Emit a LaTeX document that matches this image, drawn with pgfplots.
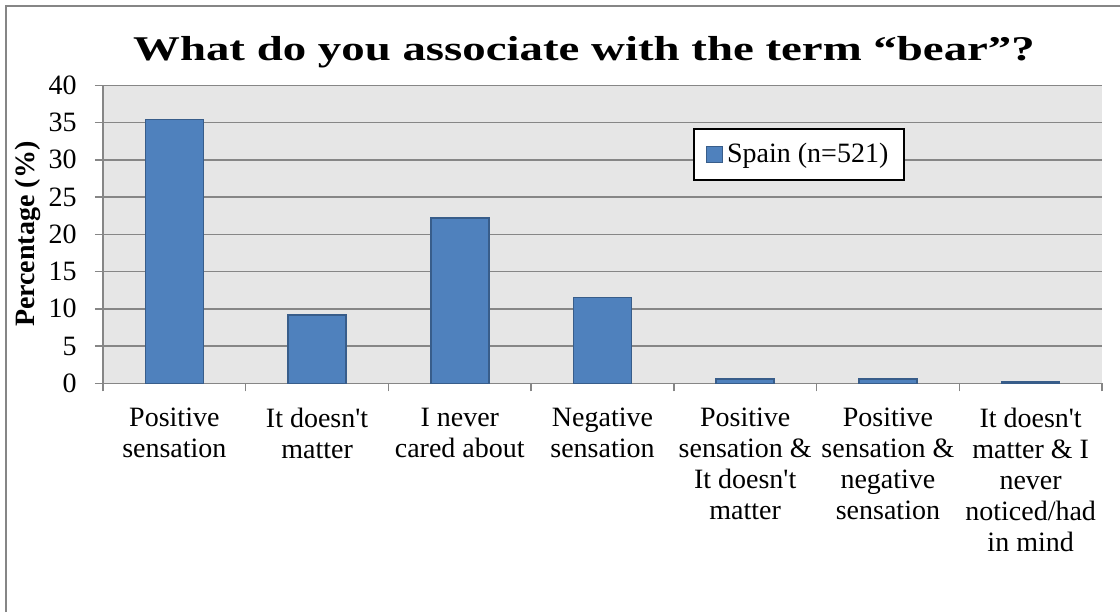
\documentclass[border=0pt]{standalone}
\usepackage{graphicx}
\usepackage{pgfplots}
\pgfplotsset{compat=1.18}
\usepackage{fontspec}
\setmainfont{Liberation Serif}
\definecolor{barfill}{HTML}{4F81BD}
\definecolor{baredge}{HTML}{385D8A}
\definecolor{gridc}{HTML}{868686}
\definecolor{plotbg}{HTML}{E6E6E6}
\newcommand{\ap}{\textquotesingle}
\begin{document}
\begin{tikzpicture}
\path[use as bounding box] (0,0) rectangle (560pt,306pt);
\draw[gridc, line width=1pt] (3pt,0) -- (3pt,303pt) -- (560pt,303pt);
\node[anchor=base, font=\fontsize{17.35pt}{20pt}\selectfont\bfseries] at (292pt,275.5pt)
  {\scalebox{1.35}[1]{What do you associate with the term “bear”?}};
\begin{axis}[
  at={(51.5pt,114.35pt)}, anchor=south west,
  scale only axis, width=499.5pt, height=149pt,
  xmin=-0.5, xmax=6.5, ymin=0, ymax=40,
  ytick={0,5,...,40},
  xtick={0,...,6},
  xticklabels={{Positive\\sensation},{It doesn\ap t\\matter},{I never\\cared about},{Negative\\sensation},{Positive\\sensation \&\\It doesn\ap t\\matter},{Positive\\sensation \&\\negative\\sensation},{It doesn\ap t\\matter \& I\\never\\noticed/had\\in mind}},
  minor xtick={-0.5,0.5,...,6.5},
  axis lines=left,
  axis line style={-, gridc, line width=0.7pt},
  axis background/.style={fill=plotbg},
  ymajorgrids, grid style={gridc, line width=0.7pt},
  tick align=outside, major tick length=4pt, minor tick length=4pt,
  tick style={gridc, line width=0.7pt},
  major x tick style={draw=none},
  /pgf/number format/assume math mode=true,
  ticklabel style={font=\fontsize{14pt}{15.5pt}\selectfont, text=black},
  xticklabel style={align=center, inner sep=0pt, anchor=north, yshift=-8pt},
  yticklabel style={inner sep=0pt, anchor=east, xshift=-9pt},
  ylabel={Percentage (\%)},
  every axis y label/.style={at={(axis description cs:-0.075,0.5)}, rotate=90, anchor=center, font=\fontsize{14pt}{16pt}\selectfont\bfseries},
  ybar, bar width=29pt,
  legend style={at={(axis description cs:0.5906,0.8567)}, anchor=north west, draw=black, line width=0.9pt, fill=white, font=\fontsize{14pt}{16pt}\selectfont, inner xsep=6pt, inner ysep=5.2pt},
]
\addplot[fill=barfill, draw=baredge, line width=0.8pt,
  legend image code/.code={\draw[fill=barfill, draw=baredge, line width=0.6pt] (0pt,-4pt) rectangle (8pt,4pt);}]
  coordinates {(0,35.4) (1,9.2) (2,22.2) (3,11.5) (4,0.6) (5,0.6) (6,0.2)};
\legend{Spain (n=521)}
\end{axis}
\end{tikzpicture}
\end{document}
